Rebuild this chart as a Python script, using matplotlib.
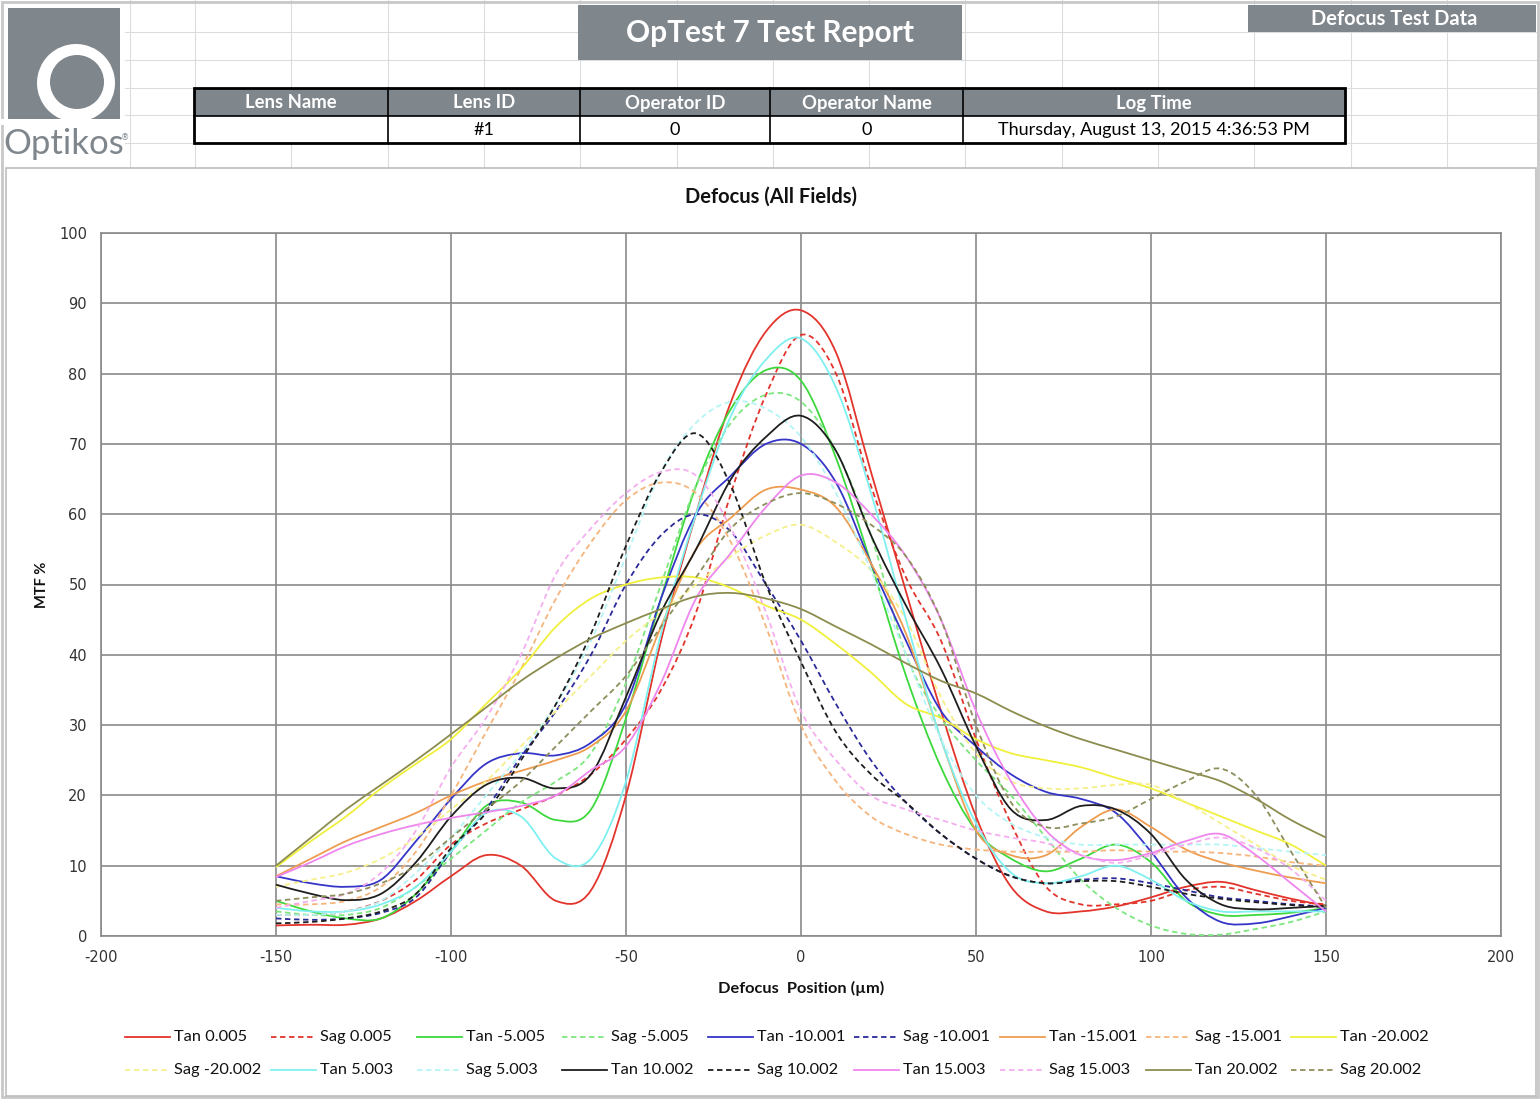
import numpy as np
import matplotlib
matplotlib.use('Agg')
import matplotlib.pyplot as plt
from matplotlib.path import Path
from matplotlib.patches import PathPatch, Rectangle, Circle

plt.rcParams['axes.unicode_minus'] = False

# defocus positions (um) and MTF %
defocus = list(range(-150, 151, 10))

tan_0_005 = [1.5, 1.6, 1.6, 2.5, 5, 8.5, 11.5, 10, 5, 6.5, 20, 42, 60, 76, 86, 89,
             83, 66, 49, 32, 17, 7, 3.5, 3.5, 4.2, 5.5, 7, 7.7, 6.5, 5.3, 4.3]
sag_0_005 = [3, 3, 3.5, 5, 8, 13, 16, 18, 20, 23, 28, 35, 46, 63, 77, 85.5,
             80, 64, 51, 42, 28, 16, 7, 4.5, 4.5, 5, 6.5, 7, 6, 5, 4.5]
tan_m5_005 = [5, 3.5, 2.5, 2.5, 6, 12, 18.5, 19, 16.5, 18, 31, 48, 64, 75, 80.5, 79,
              68, 53, 37, 24, 15, 11, 9.2, 11, 13, 10.5, 5, 3, 3, 3.3, 4]
sag_m5_005 = [3.5, 3, 3, 4, 7, 11, 15, 19, 22, 26, 36, 50, 64, 73, 77, 76,
              69, 57, 40, 31, 25, 20, 14, 8, 4, 1.5, 0.3, 0.2, 1, 2, 3.5]
tan_m10_001 = [8.5, 7.5, 7, 8, 13.5, 19.5, 24.5, 26, 25.7, 27.5, 33, 48, 60, 65.5, 70, 70,
               64.5, 53, 42, 32, 27, 23, 20.5, 19.5, 17.5, 12, 5.5, 2, 1.8, 2.8, 4]
sag_m10_001 = [2.5, 2.3, 2.5, 3.3, 5.5, 12, 18, 25.5, 32, 40, 50, 57, 60, 57.5, 50, 42,
               33, 25, 19, 14.5, 11, 8.5, 7.5, 8, 8.2, 7.5, 6.5, 5.5, 5, 4.5, 4.2]
tan_m15_001 = [8.5, 11, 13.5, 15.5, 17.5, 20, 22, 23.5, 25, 27, 32, 44, 55, 59.5, 63.5, 63.5,
               61, 53, 43, 28, 15, 11.5, 11.5, 15.5, 18, 15.5, 12.3, 10.5, 9.3, 8.3, 7.5]
sag_m15_001 = [4.5, 4.5, 5, 7, 12, 20, 29, 38, 48, 56, 62, 64.5, 63, 56, 44, 30,
               22, 17, 14.5, 13, 12.3, 12, 12, 12, 12.2, 12, 12, 11.8, 11.3, 10.5, 10]
tan_m20_002 = [9.8, 13.5, 17, 21, 24.5, 28, 33, 38, 44, 48, 50, 51, 51, 49.5, 47, 45,
               41.5, 37.5, 33, 31, 28, 26, 25, 24, 22.5, 21, 19, 17, 15, 13, 10]
sag_m20_002 = [7, 8, 9, 11, 14, 18, 22, 27, 32, 37, 42, 46, 50, 54, 57, 58.5,
               56, 52, 45, 34, 26, 22, 21, 21, 21.5, 21.5, 19, 16, 13, 10, 8]
tan_5_003 = [4, 3.5, 3.5, 4.5, 7, 12, 17.5, 17, 11, 11, 22, 43, 60, 74, 82, 85,
             78, 63, 45, 28, 16, 9, 7.5, 8.5, 10, 8, 5, 3.5, 3.5, 3.5, 3.5]
sag_5_003 = [3, 3, 3.5, 5, 9, 14, 20, 26, 33, 42, 54, 66, 73, 76, 75, 71,
             63, 52, 40, 28, 20, 16, 14, 13, 13, 13, 13, 13, 12.5, 12, 11.5]
tan_10_002 = [7.3, 6, 5.1, 6, 10.5, 17, 21.5, 22.5, 21, 23, 34, 46, 55, 65, 71, 74,
              69, 57, 47, 38, 27, 18, 16.5, 18.5, 18, 14.5, 8, 4.5, 3.8, 4, 4.3]
sag_10_002 = [1.8, 2, 2.5, 3.5, 6, 12.5, 17.5, 25, 33, 43, 55.5, 66, 71.5, 64, 50, 39,
              29, 23, 19, 14.5, 11, 8.5, 7.5, 7.8, 7.8, 7, 6, 5.3, 4.8, 4.4, 4.1]
tan_15_003 = [8.4, 10.5, 12.8, 14.5, 15.8, 16.8, 17.6, 18.5, 20, 23.6, 27, 36, 48, 54.5, 61, 65.5,
              64.5, 60, 54, 45, 32, 22, 15, 11.5, 10.8, 11.8, 13.5, 14.5, 11.5, 7.5, 3.5]
sag_15_003 = [4, 5, 6, 9, 15, 24, 31, 40, 51.5, 58, 63, 66, 65.5, 58, 46, 32,
              25, 20, 18, 16.5, 15, 14, 13.2, 11.5, 10.4, 11.5, 13, 14, 12.5, 9.5, 5]
tan_20_002 = [10, 14, 18, 21.5, 25, 28.7, 32.5, 36.3, 39.5, 42.3, 44.5, 46.5, 48.3, 48.8, 48, 46.5,
              44, 41.5, 38.8, 36.3, 34.5, 32, 29.8, 28, 26.5, 25, 23.5, 22, 19.5, 16.5, 14]
sag_20_002 = [5, 5.5, 6, 7.5, 10, 14, 18, 22, 27, 32, 37, 44, 51, 58, 61.5, 63,
              61.5, 58.5, 54, 45, 30, 19, 15.5, 16, 17, 19.5, 22, 23.8, 20, 12, 4]

series_names = ['Tan 0.005', 'Sag 0.005', 'Tan -5.005', 'Sag -5.005', 'Tan -10.001', 'Sag -10.001',
                'Tan -15.001', 'Sag -15.001', 'Tan -20.002', 'Sag -20.002', 'Tan 5.003', 'Sag 5.003',
                'Tan 10.002', 'Sag 10.002', 'Tan 15.003', 'Sag 15.003', 'Tan 20.002', 'Sag 20.002']
series_values = [tan_0_005, sag_0_005, tan_m5_005, sag_m5_005, tan_m10_001, sag_m10_001,
                 tan_m15_001, sag_m15_001, tan_m20_002, sag_m20_002, tan_5_003, sag_5_003,
                 tan_10_002, sag_10_002, tan_15_003, sag_15_003, tan_20_002, sag_20_002]
series_colors = ['#e3342c', '#e3342c', '#3cd83c', '#7ee67e', '#3535c8', '#2a2a9a',
                 '#ee9d50', '#f5b57c', '#f0f03c', '#f6f08a', '#7ff0f0', '#b4f4f4',
                 '#1e1e1e', '#1e1e1e', '#ee86ee', '#f4aef0', '#8c8c4e', '#8e8e5c']

header_cols = ['Lens Name', 'Lens ID', 'Operator ID', 'Operator Name', 'Log Time']
header_vals = ['', '#1', '0', '0', 'Thursday, August 13, 2015 4:36:53 PM']

GRAY = '#7f868c'
W, H = 1540, 1099
DASH = (0, (3, 2))


def smooth_path(x, y):
    # excel style smoothed line: bezier segments with catmull-rom handles
    pts = np.column_stack([x, y]).astype(float)
    ext = np.vstack([pts[0], pts, pts[-1]])
    verts = [pts[0]]
    codes = [Path.MOVETO]
    for i in range(len(pts) - 1):
        p0, p1, p2, p3 = ext[i], ext[i + 1], ext[i + 2], ext[i + 3]
        verts += [p1 + (p2 - p0) / 6.0, p2 - (p3 - p1) / 6.0, p2]
        codes += [Path.CURVE4] * 3
    return Path(verts, codes)


fig = plt.figure(figsize=(W / 100, H / 100), dpi=100)
fig.patch.set_facecolor('white')

# page layer in pixel coords
bg = fig.add_axes([0, 0, 1, 1])
bg.set_xlim(0, W)
bg.set_ylim(H, 0)
bg.axis('off')

# spreadsheet cell lines
for cx in [130] + [195 + 96.3 * k for k in range(14)]:
    bg.plot([cx, cx], [0, 168], color='#dcdcdc', lw=0.8, zorder=0)
for ry in [32, 60, 88, 115, 143]:
    bg.plot([125, W], [ry, ry], color='#dcdcdc', lw=0.8, zorder=0)
bg.add_patch(Rectangle((2, 2), W - 4, H - 4, fill=False, ec='#c8c8c8', lw=2, zorder=1))

# logo
bg.add_patch(Rectangle((8, 8), 112, 111, fc=GRAY, ec='none', zorder=2))
bg.add_patch(Circle((76, 83), 39, fc='white', ec='none', zorder=3))
bg.add_patch(Circle((77, 82), 27, fc=GRAY, ec='none', zorder=4))
bg.add_patch(Rectangle((0, 119), 125, 6, fc='white', ec='none', zorder=5))
bg.text(3, 144, 'Optikos', fontsize=25, color=GRAY, family='Lato', va='center', ha='left', zorder=6)
bg.text(121, 138, '®', fontsize=6, color=GRAY, family='DejaVu Sans', va='center', ha='left', zorder=6)

# title boxes
bg.add_patch(Rectangle((578, 5), 384, 55, fc=GRAY, ec='none', zorder=2))
bg.text(770, 33, 'OpTest 7 Test Report', fontsize=21.5, color='white', weight='bold',
        family='Lato', ha='center', va='center', zorder=3)
bg.add_patch(Rectangle((1248, 5), 288, 27, fc=GRAY, ec='none', zorder=2))
bg.text(1394, 19, 'Defocus Test Data', fontsize=14.5, color='white', weight='bold',
        family='Lato', ha='center', va='center', zorder=3)

# info table
col_edges = [194, 388, 580, 770, 963, 1345]
bg.add_patch(Rectangle((194, 88), 1151, 28, fc=GRAY, ec='none', zorder=2))
bg.add_patch(Rectangle((194, 116), 1151, 27, fc='white', ec='none', zorder=2))
for i, name in enumerate(header_cols):
    mid = (col_edges[i] + col_edges[i + 1]) / 2
    bg.text(mid, 103, name, fontsize=13.3, color='white', weight='bold', family='Lato',
            ha='center', va='center', zorder=3)
    bg.text(mid, 130, header_vals[i], fontsize=13, color='black', family='Lato',
            ha='center', va='center', zorder=3)
for cx in col_edges[1:-1]:
    bg.plot([cx, cx], [88, 143], color='black', lw=1.2, zorder=4)
bg.plot([194, 1345], [116, 116], color='black', lw=1.2, zorder=4)
bg.add_patch(Rectangle((194, 88), 1151, 55, fill=False, ec='black', lw=2, zorder=5))

# chart frame
bg.add_patch(Rectangle((6, 168), 1530, 928, fc='white', ec='#bdbdbd', lw=1.2, zorder=1))
bg.text(771, 197, 'Defocus (All Fields)', fontsize=14.5, weight='bold', family='Lato',
        ha='center', va='center', color='#111111')
bg.text(42, 585, 'MTF %', fontsize=10.5, weight='bold', family='Lato', rotation=90,
        ha='center', va='center', color='#111111')
bg.text(801, 988, 'Defocus  Position (µm)', fontsize=11.8, weight='bold', family='Lato',
        ha='center', va='center', color='#111111')

# plot area
ax = fig.add_axes([101 / W, 1 - 936 / H, 1400 / W, 703 / H])
ax.set_xlim(-200, 200)
ax.set_ylim(0, 100)
ax.set_xticks(range(-200, 201, 50))
ax.set_yticks(range(0, 101, 10))
ax.grid(True, color='#8a8a8a', lw=1.2)
ax.set_axisbelow(True)
for s in ax.spines.values():
    s.set_color('#8a8a8a')
    s.set_linewidth(1.2)
ax.tick_params(length=0, labelsize=10.5, labelcolor='#333333', pad=10)
for lab in ax.get_xticklabels() + ax.get_yticklabels():
    lab.set_family('DejaVu Sans')

for i, (name, vals, col) in enumerate(zip(series_names, series_values, series_colors)):
    ls = DASH if name.startswith('Sag') else '-'
    ax.add_patch(PathPatch(smooth_path(defocus, vals), fill=False, ec=col, lw=1.3,
                           linestyle=ls, zorder=3 + i * 0.01))

# legend: two rows of nine, fixed pitch like the excel one
for i, (name, col) in enumerate(zip(series_names, series_colors)):
    row, c = divmod(i, 9)
    lx = 125 + 145.8 * c
    ly = 1037 + 33 * row
    ls = DASH if name.startswith('Sag') else '-'
    bg.plot([lx, lx + 45], [ly, ly], color=col, lw=1.3, linestyle=ls, zorder=3)
    bg.text(lx + 49, ly, name, fontsize=11.8, family='Lato', color='#111111',
            ha='left', va='center', zorder=3)

fig.savefig('out.png', dpi=100)
